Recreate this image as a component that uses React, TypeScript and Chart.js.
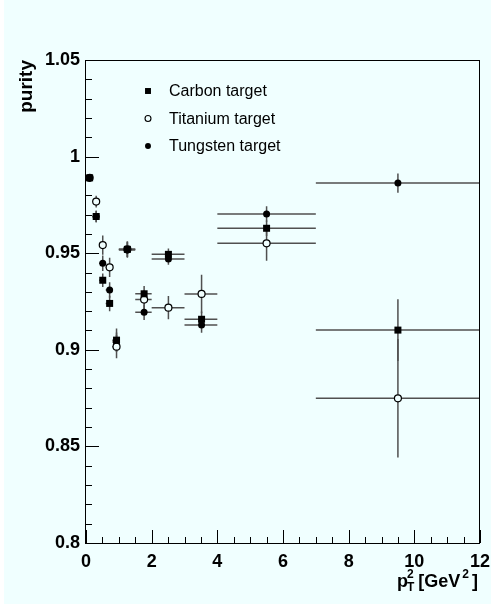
import React, { useEffect, useRef } from "react";
import { Chart, registerables } from "chart.js";

Chart.register(...registerables);

// ---- data ----
const xCenters = [0.11, 0.31, 0.51, 0.72, 0.93, 1.26, 1.77, 2.51, 3.52, 5.5, 9.5];
const binLow = [0, 0.2, 0.4, 0.6, 0.8, 1.0, 1.5, 2.0, 3.0, 4.0, 7.0];
const binHigh = [0.2, 0.4, 0.6, 0.8, 1.0, 1.5, 2.0, 3.0, 4.0, 7.0, 12.0];

const carbonY = [0.989, 0.969, 0.936, 0.924, 0.905, 0.952, 0.929, 0.9494, 0.9158, 0.9629, 0.9102];
const carbonErr = [0.002, 0.003, 0.0035, 0.004, 0.006, 0.004, 0.004, 0.003, 0.004, 0.004, 0.016];

const titaniumY = [0.989, 0.9767, 0.9542, 0.9427, 0.9016, 0.952, 0.926, 0.9218, 0.9289, 0.9551, 0.8749];
const titaniumErr = [0.002, 0.003, 0.005, 0.005, 0.006, 0.004, 0.005, 0.006, 0.01, 0.009, 0.0307];

const tungstenY = [0.989, 0.969, 0.9448, 0.931, 0.904, 0.9517, 0.9194, 0.947, 0.9128, 0.9703, 0.9863];
const tungstenErr = [0.002, 0.003, 0.004, 0.004, 0.005, 0.004, 0.004, 0.003, 0.004, 0.004, 0.005];

const seriesNames = ["Carbon target", "Titanium target", "Tungsten target"];
const xTicks = [0, 2, 4, 6, 8, 10, 12];
const yTicks = [0.8, 0.85, 0.9, 0.95, 1, 1.05];

const BG = "#f0ffff";
const FONT = "'Liberation Sans', Arial, Helvetica, sans-serif";

type Series = { name: string; ys: number[]; errs: number[]; style: "rect" | "circle"; open: boolean };
const series: Series[] = [
  { name: seriesNames[0], ys: carbonY, errs: carbonErr, style: "rect", open: false },
  { name: seriesNames[1], ys: titaniumY, errs: titaniumErr, style: "circle", open: true },
  { name: seriesNames[2], ys: tungstenY, errs: tungstenErr, style: "circle", open: false },
];

function drawMarker(ctx: CanvasRenderingContext2D, s: Series, x: number, y: number, scale = 1) {
  ctx.save();
  if (s.style === "rect") {
    const h = 3.3 * scale;
    ctx.fillStyle = "#000";
    ctx.fillRect(x - h, y - h, 2 * h, 2 * h);
  } else {
    ctx.beginPath();
    ctx.arc(x, y, 3.3 * scale, 0, Math.PI * 2);
    if (s.open) {
      ctx.fillStyle = BG;
      ctx.fill();
      ctx.lineWidth = 1.1;
      ctx.strokeStyle = "#000";
      ctx.stroke();
    } else {
      ctx.fillStyle = "#000";
      ctx.fill();
    }
  }
  ctx.restore();
}

const rootPlugin = {
  id: "rootStyle",
  beforeDraw(chart: any) {
    const ctx = chart.ctx as CanvasRenderingContext2D;
    ctx.save();
    ctx.fillStyle = BG;
    ctx.fillRect(0, 0, chart.width, chart.height);
    ctx.restore();
  },
  beforeDatasetsDraw(chart: any) {
    const ctx = chart.ctx as CanvasRenderingContext2D;
    const xs = chart.scales.x;
    const ys = chart.scales.y;
    ctx.save();
    ctx.strokeStyle = "#505050";
    ctx.lineWidth = 1.5;
    series.forEach((s) => {
      xCenters.forEach((xc, i) => {
        const px = xs.getPixelForValue(xc);
        const py = ys.getPixelForValue(s.ys[i]);
        const x0 = xs.getPixelForValue(binLow[i]);
        const x1 = xs.getPixelForValue(binHigh[i]);
        const y0 = ys.getPixelForValue(s.ys[i] - s.errs[i]);
        const y1 = ys.getPixelForValue(s.ys[i] + s.errs[i]);
        ctx.beginPath();
        ctx.moveTo(x0, py);
        ctx.lineTo(x1, py);
        ctx.moveTo(px, y0);
        ctx.lineTo(px, y1);
        ctx.stroke();
      });
    });
    ctx.restore();
  },
  afterDraw(chart: any) {
    const ctx = chart.ctx as CanvasRenderingContext2D;
    const a = chart.chartArea;
    const xs = chart.scales.x;
    const ys = chart.scales.y;
    ctx.save();
    // frame
    ctx.strokeStyle = "#000";
    ctx.lineWidth = 1;
    ctx.strokeRect(Math.round(a.left) - 0.5, Math.round(a.top) + 0.5, Math.round(a.right - a.left), Math.round(a.bottom - a.top));
    // ticks
    ctx.beginPath();
    for (let v = 0; v <= 12.0001; v += 0.5) {
      const px = Math.round(xs.getPixelForValue(v)) + 0.5;
      const major = Math.abs(v / 2 - Math.round(v / 2)) < 1e-6;
      const len = major ? 13 : 6;
      ctx.moveTo(px, a.bottom);
      ctx.lineTo(px, a.bottom - len);
    }
    for (let k = 0; k <= 25; k++) {
      const v = 0.8 + k * 0.01;
      const py = Math.round(ys.getPixelForValue(v)) + 0.5;
      const len = k % 5 === 0 ? 13 : 6;
      ctx.moveTo(a.left, py);
      ctx.lineTo(a.left + len, py);
    }
    ctx.stroke();

    // legend
    const lx = a.left + 62;
    const rows = [a.top + 31, a.top + 58.5, a.top + 86];
    ctx.font = `16px ${FONT}`;
    ctx.textBaseline = "middle";
    ctx.textAlign = "left";
    ctx.fillStyle = "#000";
    series.forEach((s, i) => {
      drawMarker(ctx, s, lx, rows[i], 0.9);
      ctx.fillStyle = "#000";
      ctx.fillText(s.name, lx + 21, rows[i] + 1);
    });

    // x-axis title: p_T^2 [GeV^2]
    const big = `bold 18px ${FONT}`;
    const small = `bold 12px ${FONT}`;
    const base = a.bottom + 44;
    ctx.textBaseline = "alphabetic";
    ctx.font = big;
    const wP = ctx.measureText("p").width;
    const wMid = ctx.measureText("[GeV").width;
    const wEnd = ctx.measureText("]").width;
    ctx.font = small;
    const wT = ctx.measureText("T").width;
    const w2 = ctx.measureText("2").width;
    const gapA = 4;
    const gapB = 2;
    const gapC = 3;
    const total = wP - 1 + Math.max(wT, w2) + gapA + wMid + gapB + w2 + gapC + wEnd;
    let x = a.right - 2 - total;
    ctx.font = big;
    ctx.fillText("p", x, base);
    x += wP - 1;
    ctx.font = small;
    ctx.fillText("T", x, base + 4);
    ctx.fillText("2", x, base - 9);
    x += Math.max(wT, w2) + gapA;
    ctx.font = big;
    ctx.fillText("[GeV", x, base);
    x += wMid + gapB;
    ctx.font = small;
    ctx.fillText("2", x, base - 9);
    x += w2 + gapC;
    ctx.font = big;
    ctx.fillText("]", x, base);
    ctx.restore();
  },
};

export default function App() {
  const ref = useRef<HTMLCanvasElement | null>(null);
  useEffect(() => {
    document.body.style.margin = "0";
    document.body.style.background = "#ffffff";
    const canvas = ref.current;
    if (!canvas) return;
    const datasets = series.map((s, idx) => ({
      label: s.name,
      data: xCenters.map((x, i) => ({ x, y: s.ys[i] })),
      pointStyle: s.style,
      pointRadius: s.style === "rect" ? 4.95 : 3.5,
      pointHoverRadius: s.style === "rect" ? 4.95 : 3.5,
      backgroundColor: s.open ? BG : "#000",
      borderColor: "#000",
      borderWidth: s.open ? 1.2 : 0,
      showLine: false,
      order: idx,
    }));
    const chart = new Chart(canvas, {
      type: "scatter",
      data: { datasets },
      plugins: [rootPlugin],
      options: {
        animation: false,
        responsive: false,
        devicePixelRatio: 1,
        events: [],
        layout: { padding: { top: 60, right: 11, left: 0, bottom: 0 } },
        plugins: { legend: { display: false }, tooltip: { enabled: false } },
        scales: {
          x: {
            type: "linear",
            min: 0,
            max: 12,
            grid: { display: false, drawTicks: false },
            border: { display: false },
            ticks: {
              color: "#000",
              font: { family: FONT, size: 18, weight: "bold" },
              padding: 8,
              maxRotation: 0,
              autoSkip: false,
              callback: (v: any) => String(v),
            },
            afterBuildTicks: (s: any) => {
              s.ticks = xTicks.map((value) => ({ value }));
            },
            afterFit: (s: any) => {
              s.height = 61;
              s.paddingLeft = 0;
              s.paddingRight = 0;
            },
          },
          y: {
            type: "linear",
            min: 0.8,
            max: 1.05,
            grid: { display: false, drawTicks: false },
            border: { display: false },
            ticks: {
              color: "#000",
              font: { family: FONT, size: 18, weight: "bold" },
              padding: 6,
              autoSkip: false,
              callback: (v: any) => String(Math.round(Number(v) * 100) / 100),
            },
            afterBuildTicks: (s: any) => {
              s.ticks = yTicks.map((value) => ({ value }));
            },
            afterFit: (s: any) => {
              s.width = 82;
              s.paddingTop = 0;
              s.paddingBottom = 0;
            },
            title: {
              display: true,
              text: "purity",
              align: "end",
              color: "#000",
              font: { family: FONT, size: 19, weight: "bold" },
              padding: { top: 11, bottom: 0 },
            },
          },
        },
      } as any,
    });
    return () => chart.destroy();
  }, []);
  return (
    <div style={{ marginLeft: 4, width: 487, height: 604 }}>
      <canvas ref={ref} width={487} height={604} style={{ display: "block" }} />
    </div>
  );
}
